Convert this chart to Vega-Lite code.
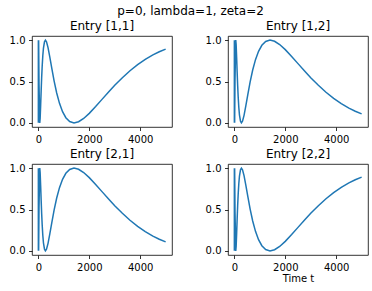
{
  "$schema": "https://vega.github.io/schema/vega-lite/v6.json",
  "padding": {"left": 8, "top": 4, "right": 5, "bottom": 5},
  "datasets": {
    "f": [
      {"t": 0.0167, "v": 1}, {"t": 0.0844, "v": 0}, {"t": 0.426, "v": 1}, {"t": 2.15, "v": 0},
      {"t": 5, "v": 0.5314}, {"t": 10.87, "v": 1}, {"t": 25, "v": 0.4776}, {"t": 55, "v": 0},
      {"t": 70, "v": 0.0545}, {"t": 90, "v": 0.2128}, {"t": 110, "v": 0.3896}, {"t": 130, "v": 0.5504},
      {"t": 150, "v": 0.6851}, {"t": 175, "v": 0.8141}, {"t": 200, "v": 0.9029}, {"t": 240, "v": 0.9803},
      {"t": 277, "v": 1}, {"t": 320, "v": 0.9807}, {"t": 380, "v": 0.9094}, {"t": 450, "v": 0.7951},
      {"t": 530, "v": 0.6543}, {"t": 620, "v": 0.5048}, {"t": 720, "v": 0.3611}, {"t": 830, "v": 0.2362},
      {"t": 950, "v": 0.1348}, {"t": 1080, "v": 0.062}, {"t": 1230, "v": 0.0157}, {"t": 1400, "v": 0},
      {"t": 1580, "v": 0.0137}, {"t": 1780, "v": 0.0533}, {"t": 2000, "v": 0.1149}, {"t": 2250, "v": 0.197},
      {"t": 2500, "v": 0.2839}, {"t": 2750, "v": 0.3705}, {"t": 3000, "v": 0.4536}, {"t": 3300, "v": 0.5461},
      {"t": 3600, "v": 0.63}, {"t": 3900, "v": 0.7041}, {"t": 4200, "v": 0.7674}, {"t": 4500, "v": 0.8212},
      {"t": 4750, "v": 0.859}, {"t": 5000, "v": 0.8913}
    ],
    "g": [
      {"t": 0.0167, "v": 0}, {"t": 0.0844, "v": 1}, {"t": 0.426, "v": 0}, {"t": 2.15, "v": 1},
      {"t": 5, "v": 0.4686}, {"t": 10.87, "v": 0}, {"t": 25, "v": 0.5224}, {"t": 55, "v": 1},
      {"t": 70, "v": 0.9455}, {"t": 90, "v": 0.7872}, {"t": 110, "v": 0.6104}, {"t": 130, "v": 0.4496},
      {"t": 150, "v": 0.3149}, {"t": 175, "v": 0.1859}, {"t": 200, "v": 0.0971}, {"t": 240, "v": 0.0197},
      {"t": 277, "v": 0}, {"t": 320, "v": 0.0193}, {"t": 380, "v": 0.0906}, {"t": 450, "v": 0.2049},
      {"t": 530, "v": 0.3457}, {"t": 620, "v": 0.4952}, {"t": 720, "v": 0.6389}, {"t": 830, "v": 0.7638},
      {"t": 950, "v": 0.8652}, {"t": 1080, "v": 0.938}, {"t": 1230, "v": 0.9843}, {"t": 1400, "v": 1},
      {"t": 1580, "v": 0.9863}, {"t": 1780, "v": 0.9467}, {"t": 2000, "v": 0.8851}, {"t": 2250, "v": 0.803},
      {"t": 2500, "v": 0.7161}, {"t": 2750, "v": 0.6295}, {"t": 3000, "v": 0.5464}, {"t": 3300, "v": 0.4539},
      {"t": 3600, "v": 0.37}, {"t": 3900, "v": 0.2959}, {"t": 4200, "v": 0.2326}, {"t": 4500, "v": 0.1788},
      {"t": 4750, "v": 0.141}, {"t": 5000, "v": 0.1087}
    ]
  },
  "title": {"text": "p=0, lambda=1, zeta=2", "fontSize": 12, "fontWeight": "normal", "anchor": "middle", "color": "black", "offset": 2, "dx": 2},
  "columns": 2,
  "spacing": {"row": 37, "column": 56},
  "bounds": "flush",
  "concat": [
    {
      "data": {"name": "f"},
      "title": "Entry [1,1]",
      "width": 140, "height": 91,
      "mark": {"type": "line", "color": "#1f77b4", "strokeWidth": 1.5},
      "encoding": {
        "x": {"field": "t", "type": "quantitative", "scale": {"domain": [-250, 5250], "nice": false, "zero": false}, "axis": {"values": [0, 2000, 4000], "format": "d", "title": null}},
        "y": {"field": "v", "type": "quantitative", "scale": {"domain": [-0.05, 1.05], "nice": false, "zero": false}, "axis": {"values": [0, 0.5, 1], "format": ".1f", "title": null}}
      }
    },
    {
      "data": {"name": "g"},
      "title": "Entry [1,2]",
      "width": 140, "height": 91,
      "mark": {"type": "line", "color": "#1f77b4", "strokeWidth": 1.5},
      "encoding": {
        "x": {"field": "t", "type": "quantitative", "scale": {"domain": [-250, 5250], "nice": false, "zero": false}, "axis": {"values": [0, 2000, 4000], "format": "d", "title": null}},
        "y": {"field": "v", "type": "quantitative", "scale": {"domain": [-0.05, 1.05], "nice": false, "zero": false}, "axis": {"values": [0, 0.5, 1], "format": ".1f", "title": null}}
      }
    },
    {
      "data": {"name": "g"},
      "title": "Entry [2,1]",
      "width": 140, "height": 91,
      "mark": {"type": "line", "color": "#1f77b4", "strokeWidth": 1.5},
      "encoding": {
        "x": {"field": "t", "type": "quantitative", "scale": {"domain": [-250, 5250], "nice": false, "zero": false}, "axis": {"values": [0, 2000, 4000], "format": "d", "title": null}},
        "y": {"field": "v", "type": "quantitative", "scale": {"domain": [-0.05, 1.05], "nice": false, "zero": false}, "axis": {"values": [0, 0.5, 1], "format": ".1f", "title": null}}
      }
    },
    {
      "data": {"name": "f"},
      "title": "Entry [2,2]",
      "width": 140, "height": 91,
      "mark": {"type": "line", "color": "#1f77b4", "strokeWidth": 1.5},
      "encoding": {
        "x": {"field": "t", "type": "quantitative", "scale": {"domain": [-250, 5250], "nice": false, "zero": false}, "axis": {"values": [0, 2000, 4000], "format": "d", "title": "Time t"}},
        "y": {"field": "v", "type": "quantitative", "scale": {"domain": [-0.05, 1.05], "nice": false, "zero": false}, "axis": {"values": [0, 0.5, 1], "format": ".1f", "title": null}}
      }
    }
  ],
  "config": {
    "font": "DejaVu Sans",
    "background": "white",
    "view": {"stroke": "black", "strokeWidth": 0.8},
    "axis": {
      "grid": false, "domain": false,
      "tickColor": "black", "tickSize": 3.5, "tickWidth": 0.8,
      "labelFont": "DejaVu Sans", "labelFontSize": 10, "labelColor": "black", "labelPadding": 3.5,
      "labelFlush": false, "labelOverlap": false,
      "titleFont": "DejaVu Sans", "titleFontSize": 10, "titleFontWeight": "normal", "titleColor": "black", "titlePadding": 1
    },
    "title": {"font": "DejaVu Sans", "fontSize": 12, "fontWeight": "normal", "color": "black", "offset": 2}
  }
}
